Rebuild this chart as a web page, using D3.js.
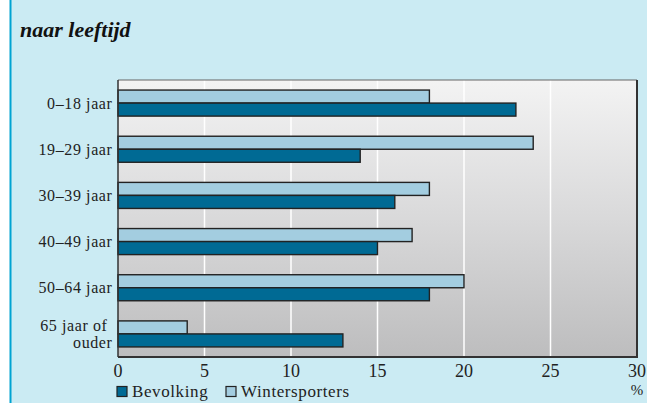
<!DOCTYPE html>
<html><head><meta charset="utf-8">
<script src="https://cdn.jsdelivr.net/npm/d3@7"></script>
<style>
html,body{margin:0;padding:0;background:#fff;}
svg{display:block;}
</style></head>
<body>
<svg id="c" width="647" height="403"></svg>
<script>
const title = "naar leeftijd";
const categories = [["0–18 jaar"],["19–29 jaar"],["30–39 jaar"],["40–49 jaar"],["50–64 jaar"],["65 jaar of","ouder"]];
const bevolking = [23,14,16,15,18,13];
const wintersporters = [18,24,18,17,20,4];
const xTicks = [0,5,10,15,20,25,30];
const seriesNames = ["Bevolking","Wintersporters"];
const colors = ["#006a94","#a3cde0"];

const FONT = "'Liberation Serif', 'DejaVu Serif', serif";
const svg = d3.select("#c").attr("font-family", FONT);
const W = 647, H = 403;
svg.append("rect").attr("x",10).attr("y",0).attr("width",W-10).attr("height",H).attr("fill","#cbebf3");
svg.append("rect").attr("x",9.5).attr("y",0).attr("width",2).attr("height",H).attr("fill","#00a3d2");

svg.append("text").attr("x",20).attr("y",37).attr("font-size",22).attr("font-weight","bold")
  .attr("font-family",FONT).attr("font-style","italic").attr("fill","#111").text(title);

const m = {l:118, t:80, r:637, b:357};
const x = d3.scaleLinear().domain([0,30]).range([m.l,m.r]);
const y = d3.scaleBand().domain(d3.range(categories.length)).range([m.t,m.b]).paddingInner(0.436).paddingOuter(0.218);

const defs = svg.append("defs");
const g = defs.append("linearGradient").attr("id","bg").attr("x1",0).attr("y1",0).attr("x2",0).attr("y2",1);
g.append("stop").attr("offset","0%").attr("stop-color","#f3f3f3");
g.append("stop").attr("offset","50%").attr("stop-color","#d9d9da");
g.append("stop").attr("offset","100%").attr("stop-color","#bdbdbe");

svg.append("rect").attr("x",m.l).attr("y",m.t).attr("width",m.r-m.l).attr("height",m.b-m.t).attr("fill","url(#bg)");

svg.append("g").selectAll("line").data(xTicks.filter(d=>d>0&&d<30)).join("line")
  .attr("x1",d=>x(d)).attr("x2",d=>x(d)).attr("y1",m.t).attr("y2",m.b)
  .attr("stroke","#fff").attr("stroke-width",1.5);

const bh = y.bandwidth()/2;
const bars = svg.append("g");
categories.forEach((c,i)=>{
  bars.append("rect").attr("x",x(0)).attr("y",y(i)).attr("width",x(wintersporters[i])-x(0)).attr("height",bh)
    .attr("fill",colors[1]).attr("stroke","#222").attr("stroke-width",1.4);
  bars.append("rect").attr("x",x(0)).attr("y",y(i)+bh).attr("width",x(bevolking[i])-x(0)).attr("height",bh)
    .attr("fill",colors[0]).attr("stroke","#222").attr("stroke-width",1.4);
});

svg.append("line").attr("x1",m.l).attr("x2",m.r).attr("y1",m.t).attr("y2",m.t).attr("stroke","#666").attr("stroke-width",1.2);
svg.append("line").attr("x1",m.l).attr("x2",m.l).attr("y1",m.t).attr("y2",m.b).attr("stroke","#333").attr("stroke-width",1.5);
svg.append("line").attr("x1",m.r).attr("x2",m.r).attr("y1",m.t).attr("y2",m.b+1).attr("stroke","#333").attr("stroke-width",2);
svg.append("line").attr("x1",m.l).attr("x2",m.r+1).attr("y1",m.b).attr("y2",m.b).attr("stroke","#333").attr("stroke-width",2);

const lab = svg.append("g").attr("font-size",16).attr("text-anchor","end").attr("fill","#222").attr("letter-spacing",0.6);
categories.forEach((c,i)=>{
  const cy = y(i)+y.bandwidth()/2;
  const n = c.length;
  c.forEach((line,j)=>{
    lab.append("text").attr("x", (n>1 && j==0) ? 107.5 : 112.5)
      .attr("y", cy + 5.5 + (j-(n-1)/2)*17.8).text(line);
  });
});

const ax = svg.append("g").attr("font-size",18).attr("text-anchor","middle").attr("fill","#222");
ax.selectAll("text").data(xTicks).join("text").attr("x",d=>x(d)).attr("y",377).text(d=>d);
ax.append("text").attr("x",x(30)).attr("y",395).attr("font-size",15).text("%");

const lg = svg.append("g").attr("font-size",17).attr("fill","#222").attr("letter-spacing",0.6);
const lx = [117, 226];
seriesNames.forEach((s,i)=>{
  lg.append("rect").attr("x",lx[i]).attr("y",386.5).attr("width",10).attr("height",10)
    .attr("fill",colors[i]).attr("stroke","#222").attr("stroke-width",1.2);
  lg.append("text").attr("x",lx[i]+15).attr("y",396.5).text(s);
});
</script>
</body></html>
